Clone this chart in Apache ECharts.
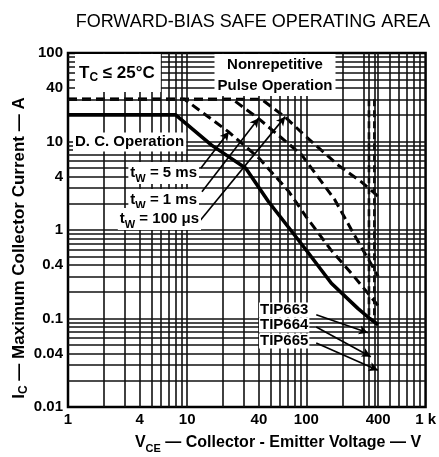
<!DOCTYPE html>
<html><head><meta charset="utf-8">
<script src="https://cdn.jsdelivr.net/npm/echarts@6/dist/echarts.min.js"></script>
<style>html,body{margin:0;padding:0;background:#fff}#c{width:439px;height:457px}</style>
</head><body><div id="c"></div>
<script>
// ---- data ----
const xTickLabels = [1, 4, 10, 40, 100, 400, 1000];
const yTickLabels = [0.01, 0.04, 0.1, 0.4, 1, 4, 10, 40, 100];

const dcV   = [1, 8, 16, 31, 48, 81, 104, 162, 270, 340, 400];
const dcI   = [20, 20, 9.1, 5, 2.1, 0.85, 0.55, 0.25, 0.13, 0.1, 0.085];
const ms5V  = [1, 9.5, 22, 40, 70, 100, 160, 250, 400];
const ms5I  = [30, 30, 13, 6.5, 2.8, 1.4, 0.6, 0.3, 0.14];
const ms1V  = [1, 24, 40, 91, 173, 250, 400];
const ms1I  = [30, 30, 18, 7.1, 2.2, 0.9, 0.3];
const us100V = [1, 42, 66, 95, 185, 289, 400];
const us100I = [30, 30, 19, 12, 5.4, 3.5, 2.4];

const vceoLimits = [335, 372];      // device voltage limit lines
const vceoTopI = 30, vceoBottomI = 0.1;

// annotation arrows: [tail, head] in (V, A)
const arrow5ms   = [[13, 4.98], [22.4, 12.9]];
const arrow1ms   = [[13.3, 2.71], [39.8, 18.3]];
const arrow100us = [[12.6, 1.24], [66.5, 19.1]];
const arrowTIP663 = [[121, 0.11], [328, 0.069]];
const arrowTIP664 = [[121, 0.08], [347, 0.037]];
const arrowTIP665 = [[121, 0.053], [398, 0.026]];

// ---- build ----
const zip = (a, b) => a.map((v, i) => [v, b[i]]);
const gridX = [], gridY = [];
for (let d = 1; d < 1000; d *= 10) for (let k = 1; k < 10; k++) { const v = +(d * k).toPrecision(3); if (v > 1) gridX.push(v); }
for (let d = 0.01; d < 100; d *= 10) for (let k = 1; k < 10; k++) { const v = +(d * k).toPrecision(3); if (v > 0.01) gridY.push(v); }
vceoLimits.forEach(v => gridX.push(v));

const FONT = '"Liberation Sans", Arial, Helvetica, sans-serif';
const fmt = (arr) => (v) => {
  let best = arr[0];
  arr.forEach(a => { if (Math.abs(Math.log10(a) - Math.log10(v)) < Math.abs(Math.log10(best) - Math.log10(v))) best = a; });
  return best === 1000 ? '1 k' : String(best);
};

const arrowML = (pair) => [{ coord: pair[0] }, { coord: pair[1] }];

const chart = echarts.init(document.getElementById('c'), null, { renderer: 'canvas' });
const richBase = (size) => ({
  b: { fontSize: size, fontWeight: 'bold', fontFamily: FONT, color: '#000', lineHeight: 22, verticalAlign: 'middle' },
  s: { fontSize: Math.round(size * 0.7), fontWeight: 'bold', fontFamily: FONT, color: '#000', lineHeight: 10, verticalAlign: 'bottom' }
});

chart.setOption({
  animation: false,
  backgroundColor: '#fff',
  title: {
    text: 'FORWARD-BIAS SAFE OPERATING AREA',
    left: 248, top: 8, textAlign: 'center',
    textStyle: { fontSize: 18, fontWeight: 'normal', fontFamily: FONT, color: '#000' }
  },
  grid: { left: 68, right: 11, top: 53, bottom: 50, show: true, borderColor: '#000', borderWidth: 2.5, backgroundColor: '#fff' },
  xAxis: {
    type: 'log', logBase: 10, min: 1, max: 1000,
    axisLine: { show: false }, axisTick: { show: false },
    splitLine: { show: false }, minorSplitLine: { show: false },
    axisLabel: { customValues: xTickLabels, formatter: fmt(xTickLabels), fontSize: 15, fontWeight: 'bold', fontFamily: FONT, color: '#000', margin: 5 }
  },
  yAxis: {
    type: 'log', logBase: 10, min: 0.01, max: 100,
    axisLine: { show: false }, axisTick: { show: false },
    splitLine: { show: false },
    axisLabel: { customValues: yTickLabels, formatter: fmt(yTickLabels), fontSize: 15, fontWeight: 'bold', fontFamily: FONT, color: '#000', margin: 5 }
  },
  series: [
    {
      name: 'grid', type: 'line', data: [], z: 1, silent: true,
      markLine: {
        silent: true, symbol: ['none', 'none'], animation: false,
        label: { show: false },
        lineStyle: { color: '#111', width: 1.6, type: 'solid' },
        data: gridX.map(v => ({ xAxis: v })).concat(gridY.map(v => ({ yAxis: v })))
      }
    },
    {
      name: 'D. C. Operation', type: 'line', data: zip(dcV, dcI), z: 5, symbol: 'none',
      lineStyle: { color: '#000', width: 3.6, join: 'round' }
    },
    {
      name: '5 ms', type: 'line', data: zip(ms5V, ms5I), z: 4, symbol: 'none',
      lineStyle: { color: '#000', width: 3, type: [9, 5] }
    },
    {
      name: '1 ms', type: 'line', data: zip(ms1V, ms1I), z: 4, symbol: 'none',
      lineStyle: { color: '#000', width: 3, type: [9, 5] }
    },
    {
      name: '100 us', type: 'line', data: zip(us100V, us100I), z: 4, symbol: 'none',
      lineStyle: { color: '#000', width: 3, type: [9, 5] }
    },
    ...vceoLimits.map(v => ({
      type: 'line', data: [[v, vceoTopI], [v, vceoBottomI]], z: 4, symbol: 'none',
      lineStyle: { color: '#000', width: 2.6, type: [7, 4] }
    })),
    {
      name: 'arrows', type: 'line', data: [], z: 8, silent: true,
      markLine: {
        silent: true, symbol: ['none', 'arrow'], symbolSize: [7, 9], animation: false,
        label: { show: false },
        lineStyle: { color: '#000', width: 1.6, type: 'solid' },
        data: [arrowML(arrow5ms), arrowML(arrow1ms), arrowML(arrow100us),
               arrowML(arrowTIP663), arrowML(arrowTIP664), arrowML(arrowTIP665)]
      }
    }
  ],
  graphic: [
    { type: 'text', x: 75, y: 73, z: 20, style: { text: '{b|T}{s|C}{b| ≤ 25°C}', rich: richBase(17), align: 'left', verticalAlign: 'middle', backgroundColor: '#fff', padding: [8, 6, 8, 4] } },
    { type: 'text', x: 275, y: 75, z: 20, style: { text: 'Nonrepetitive\nPulse Operation', font: 'bold 15px ' + FONT, fill: '#000', lineHeight: 21, align: 'center', verticalAlign: 'middle', backgroundColor: '#fff', padding: [0, 3, 0, 3] } },
    { type: 'text', x: 73, y: 142, z: 20, style: { text: 'D. C. Operation', font: 'bold 15px ' + FONT, fill: '#000', align: 'left', verticalAlign: 'middle', backgroundColor: '#fff', padding: [2, 2, 2, 2] } },
    { type: 'text', x: 199, y: 173, z: 20, style: { text: '{b|t}{s|W}{b| = 5 ms}', rich: richBase(15), align: 'right', verticalAlign: 'middle', backgroundColor: '#fff', padding: [0, 2, 0, 2] } },
    { type: 'text', x: 199, y: 200, z: 20, style: { text: '{b|t}{s|W}{b| = 1 ms}', rich: richBase(15), align: 'right', verticalAlign: 'middle', backgroundColor: '#fff', padding: [0, 2, 0, 2] } },
    { type: 'text', x: 201, y: 219, z: 20, style: { text: '{b|t}{s|W}{b| = 100 μs}', rich: richBase(15), align: 'right', verticalAlign: 'middle', backgroundColor: '#fff', padding: [0, 2, 0, 2] } },
    { type: 'text', x: 259, y: 310, z: 20, style: { text: 'TIP663', font: 'bold 15px ' + FONT, fill: '#000', align: 'left', verticalAlign: 'middle', backgroundColor: '#fff', padding: [0, 1, 0, 1] } },
    { type: 'text', x: 259, y: 325, z: 20, style: { text: 'TIP664', font: 'bold 15px ' + FONT, fill: '#000', align: 'left', verticalAlign: 'middle', backgroundColor: '#fff', padding: [0, 1, 0, 1] } },
    { type: 'text', x: 259, y: 341, z: 20, style: { text: 'TIP665', font: 'bold 15px ' + FONT, fill: '#000', align: 'left', verticalAlign: 'middle', backgroundColor: '#fff', padding: [0, 1, 0, 1] } },
    { type: 'text', x: 278, y: 443, z: 20, style: { text: '{b|V}{s|CE}{b| — Collector - Emitter Voltage — V}', rich: richBase(16), align: 'center', verticalAlign: 'middle' } },
    { type: 'text', x: 19, y: 248, rotation: Math.PI / 2, z: 20, style: { text: '{b|I}{s|C}{b| — Maximum Collector Current — A}', rich: richBase(17), align: 'center', verticalAlign: 'middle' } }
  ]
});
</script></body></html>
